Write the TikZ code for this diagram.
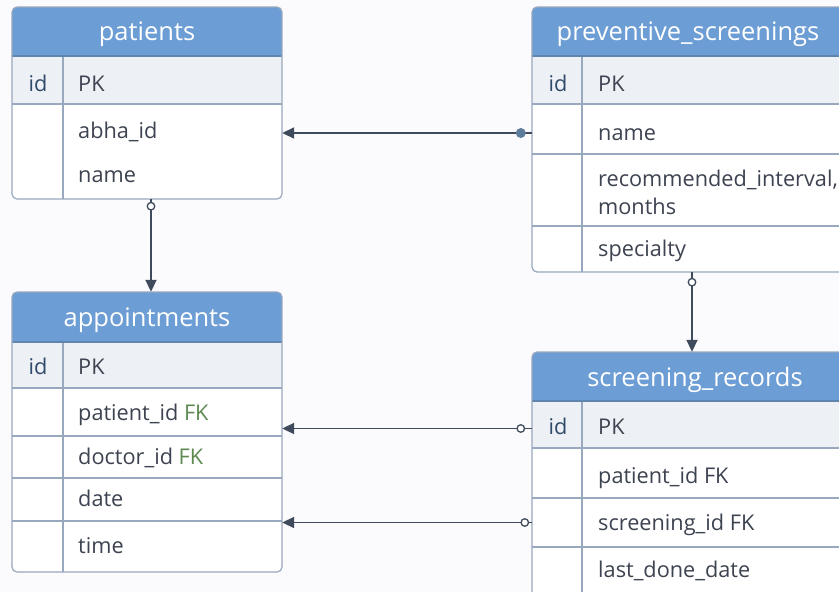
\documentclass[tikz,border=0pt]{standalone}
\usepackage{fontspec}
\setmainfont{Open Sans}
\usetikzlibrary{arrows.meta,fit}
\definecolor{hdr}{HTML}{6C9DD4}
\definecolor{hdrline}{HTML}{5F84AE}
\definecolor{brd}{HTML}{98A8BE}
\definecolor{pkbg}{HTML}{EDF0F5}
\definecolor{txt}{HTML}{3D4350}
\definecolor{idc}{HTML}{2F4A6A}
\definecolor{fkg}{HTML}{5C8A52}
\definecolor{connc}{HTML}{3F4B5C}
\definecolor{dotc}{HTML}{5D7B9B}
\definecolor{bgc}{HTML}{FBFBFD}
\begin{document}
\begin{tikzpicture}[x=1pt,y=-1pt,
  box/.style={inner sep=0pt},
  hdrtxt/.style={inner sep=0pt, text=white, font=\fontsize{25.5}{30}\selectfont},
  fld/.style={anchor=mid west, inner sep=0pt, text=txt, font=\fontsize{21.7}{26}\selectfont},
  idtxt/.style={anchor=mid, inner sep=0pt, text=idc, font=\fontsize{21.7}{26}\selectfont},
  rel/.style={draw=connc, line width=1.8pt, -{Triangle[length=12pt,width=11pt]}},
  odot/.style={circle, draw=connc, fill=white, line width=1.3pt, inner sep=0pt, minimum size=7.5pt},
  fdot/.style={circle, fill=dotc, inner sep=0pt, minimum size=10pt},
  grid/.style={draw=brd, line width=1.2pt},
]
\useasboundingbox (0,0) rectangle (839,592);
\clip (0,0) rectangle (839,592);
\fill[bgc] (0,0) rectangle (839,592);

% ---------- patients ----------
\begin{scope}
  \clip[rounded corners=5pt] (12,7) rectangle (282,199);
  \fill[white] (12,7) rectangle (282,199);
  \fill[hdr] (12,7) rectangle (282,56);
  \fill[pkbg] (12,56) rectangle (282,104);
\end{scope}
\draw[grid] (12,104) -- (282,104);
\draw[grid] (63,56) -- (63,199);
\draw[hdrline, line width=1.2pt] (12,56) -- (282,56);
\draw[grid, rounded corners=5pt] (12,7) rectangle (282,199);
\node[box, fit={(12,7)(282,56)}] (pat-h) {};
\node[box, fit={(12,56)(282,104)}] (pat-id) {};
\node[box, fit={(12,104)(282,199)}] (pat-body) {};
\node[hdrtxt] (pat-t) at ([yshift=-3pt]pat-h.center) {patients};
\node[idtxt] (pat-idt) at (38,88.5) {id};
\node[fld] (pat-pk) at (78,88.5) {PK};
\node[fld] (pat-abha) at (78,135.5) {abha\_id};
\node[fld] (pat-name) at (78,179.5) {name};

% ---------- preventive_screenings ----------
\begin{scope}
  \clip[rounded corners=5pt] (532,7) rectangle (852,272);
  \fill[white] (532,7) rectangle (852,272);
  \fill[hdr] (532,7) rectangle (852,56);
  \fill[pkbg] (532,56) rectangle (852,104);
\end{scope}
\draw[grid] (532,104) -- (852,104);
\draw[grid] (532,154) -- (852,154);
\draw[grid] (532,226) -- (852,226);
\draw[grid] (582,56) -- (582,272);
\draw[hdrline, line width=1.2pt] (532,56) -- (852,56);
\draw[grid, rounded corners=5pt] (532,7) rectangle (852,272);
\node[box, fit={(532,7)(852,56)}] (ps-h) {};
\node[box, fit={(532,56)(852,104)}] (ps-id) {};
\node[box, fit={(532,104)(852,154)}] (ps-name) {};
\node[box, fit={(532,154)(852,226)}] (ps-rec) {};
\node[box, fit={(532,226)(852,272)}] (ps-spec) {};
\node[hdrtxt] (ps-t) at ([xshift=-4pt,yshift=-3pt]ps-h.center) {preventive\_screenings};
\node[idtxt] (ps-idt) at (558,88.5) {id};
\node[fld] (ps-pk) at (598,88.5) {PK};
\node[fld] (ps-namet) at (598,137.5) {name};
\node[fld] (ps-rec1) at (598,183.5) {recommended\_interval,};
\node[fld] (ps-rec2) at (598,211.5) {months};
\node[fld] (ps-spect) at (598,253.5) {specialty};

% ---------- appointments ----------
\begin{scope}
  \clip[rounded corners=5pt] (12,292) rectangle (282,572);
  \fill[white] (12,292) rectangle (282,572);
  \fill[hdr] (12,292) rectangle (282,342);
  \fill[pkbg] (12,342) rectangle (282,388);
\end{scope}
\draw[grid] (12,388) -- (282,388);
\draw[grid] (12,436) -- (282,436);
\draw[grid] (12,478) -- (282,478);
\draw[grid] (12,521) -- (282,521);
\draw[grid] (63,342) -- (63,572);
\draw[hdrline, line width=1.2pt] (12,342) -- (282,342);
\draw[grid, rounded corners=5pt] (12,292) rectangle (282,572);
\node[box, fit={(12,292)(282,342)}] (app-h) {};
\node[box, fit={(12,342)(282,572)}] (app-body) {};
\node[hdrtxt] (app-t) at ([yshift=-3pt]app-h.center) {appointments};
\node[idtxt] (app-idt) at (38,371.5) {id};
\node[fld] (app-pk) at (78,371.5) {PK};
\node[fld] (app-pid) at (78,417.5) {patient\_id \textcolor{fkg}{FK}};
\node[fld] (app-did) at (78,461.5) {doctor\_id \textcolor{fkg}{FK}};
\node[fld] (app-date) at (78,503.5) {date};
\node[fld] (app-time) at (78,550.5) {time};

% ---------- screening_records ----------
\begin{scope}
  \clip[rounded corners=5pt] (532,352) rectangle (852,640);
  \fill[white] (532,352) rectangle (852,640);
  \fill[hdr] (532,352) rectangle (852,401);
  \fill[pkbg] (532,401) rectangle (852,448);
\end{scope}
\draw[grid] (532,448) -- (852,448);
\draw[grid] (532,498) -- (852,498);
\draw[grid] (532,547) -- (852,547);
\draw[grid] (582,401) -- (582,640);
\draw[hdrline, line width=1.2pt] (532,401) -- (852,401);
\draw[grid, rounded corners=5pt] (532,352) rectangle (852,640);
\node[box, fit={(532,352)(852,401)}] (sr-h) {};
\node[box, fit={(532,401)(852,448)}] (sr-id) {};
\node[box, fit={(532,498)(852,547)}] (sr-sid) {};
\node[hdrtxt] (sr-t) at ([xshift=3pt,yshift=-3pt]sr-h.center) {screening\_records};
\node[idtxt] (sr-idt) at (558,431.5) {id};
\node[fld] (sr-pk) at (598,431.5) {PK};
\node[fld] (sr-pid) at (598,480.5) {patient\_id FK};
\node[fld] (sr-sidt) at (598,527.5) {screening\_id FK};
\node[fld] (sr-ldd) at (598,574.5) {last\_done\_date};

% ---------- connectors ----------
\draw[rel] ([yshift=-4pt]ps-name.west) -- ++(-11,0) node[fdot] {}
  -- ([yshift=-4pt]ps-name.west -| pat-body.east);
\draw[rel] ([yshift=-4pt]sr-id.west) -- ++(-11,0) node[odot] {}
  -- ([yshift=-4pt]sr-id.west -| app-body.east);
\draw[rel] (sr-sid.west) -- ++(-7,0) node[odot] {}
  -- (sr-sid.west -| app-body.east);
\draw[rel] ([xshift=4pt]pat-body.south) -- ++(0,7) node[odot] {}
  -- ([xshift=4pt]app-h.north);
\draw[rel] (ps-spec.south) -- ++(0,10) node[odot] {}
  -- (sr-h.north);
\end{tikzpicture}
\end{document}
